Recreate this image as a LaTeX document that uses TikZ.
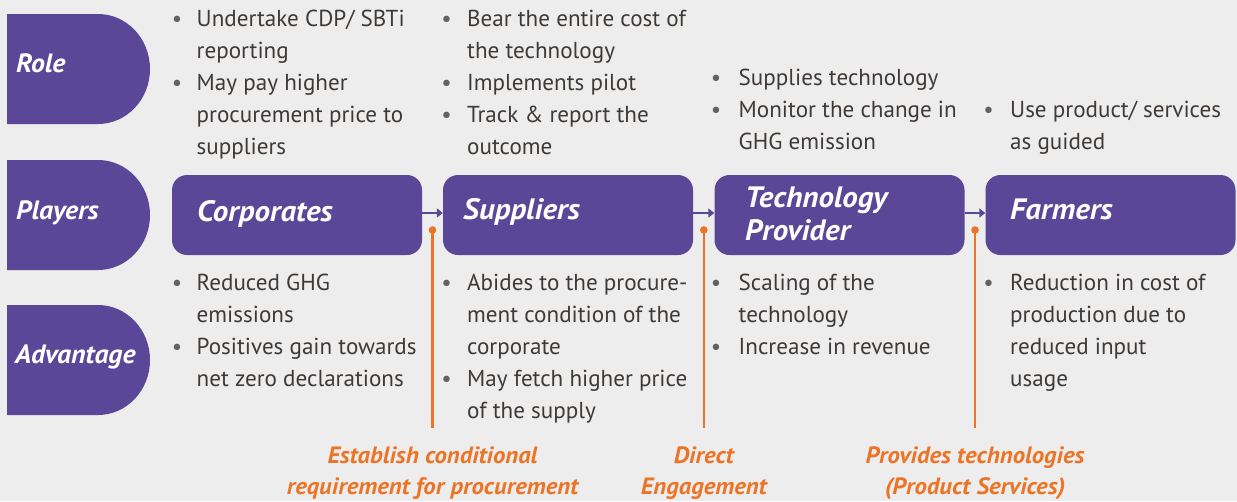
\documentclass[tikz,border=0pt]{standalone}
\usepackage{fontspec}
\setmainfont{PT Sans}
\newfontfamily\lblfont[FakeStretch=1.05]{PT Sans}
\usetikzlibrary{arrows.meta}
\definecolor{bgc}{HTML}{ECEDEC}
\definecolor{purp}{HTML}{5A4797}
\definecolor{orng}{HTML}{EC7426}
\definecolor{txtc}{HTML}{3F3A37}
\tikzset{
  txt/.style={anchor=base west, inner sep=0pt, text=txtc, font=\fontsize{23.1}{27}\selectfont},
  bul/.style={anchor=base, inner sep=0pt, text=txtc!80, font=\fontsize{23}{27}\selectfont},
  tablbl/.style={anchor=base west, inner sep=0pt, text=white, font=\lblfont\fontsize{26.5}{30}\selectfont\bfseries\itshape},
  pbox/.style={fill=purp, rounded corners=15pt, minimum width=250pt, minimum height=80pt, inner sep=0pt},
  plbl/.style={anchor=base west, inner sep=0pt, text=white, font=\lblfont\fontsize{29.5}{33}\selectfont\bfseries\itshape},
  olbl/.style={anchor=base, inner sep=0pt, text=orng, font=\lblfont\fontsize{23.6}{27}\selectfont\bfseries\itshape},
  parr/.style={draw=purp, line width=2pt, -{Triangle[length=6pt,width=9pt]}},
  oline/.style={draw=orng, line width=2.6pt},
  tabpic/.pic={\fill[purp] (0,0) -- (91,0) .. controls (119.7,0) and (143,24.6) .. (143,55) .. controls (143,85.4) and (119.7,110) .. (91,110) -- (0,110) -- cycle;}
}
\newcommand\txtline[4]{\node[txt] (#1) at (#2,#3) {#4};}
\newcommand\bulpt[3]{\node[bul] (#1) at (#2,#3) {•};}
\begin{document}
\begin{tikzpicture}[x=1pt,y=-1pt]
\fill[bgc] (0,0) rectangle (1237,501);
\useasboundingbox (0,0) rectangle (1237,501);
% tabs
\pic at (7,14) {tabpic};
\pic at (7,160) {tabpic};
\pic at (7,305) {tabpic};
\node[tablbl] (role) at (16,72.5) {Role};
\node[tablbl] (players) at (16,219) {Players};
\node[tablbl] (adv) at (15,363) {Advantage};
% player boxes
\node[pbox] (corp) at (297,215) {};
\node[pbox] (supp) at (568,215) {};
\node[pbox] (tech) at (839.5,215) {};
\node[pbox] (farm) at (1110.5,215) {};
\node[plbl] (corpt) at (197,221) {Corporates};
\node[plbl] (suppt) at (463,219) {Suppliers};
\node[plbl] (techt1) at (745,207) {Technology};
\node[plbl] (techt2) at (745,240) {Provider};
\node[plbl] (farmt) at (1010,219) {Farmers};
\draw[parr] ([yshift=2pt]corp.east) -- ([yshift=2pt]supp.west);
\draw[parr] ([yshift=2pt]supp.east) -- ([yshift=2pt]tech.west);
\draw[parr] ([yshift=2pt]tech.east) -- ([yshift=2pt]farm.west);
% orange connectors
\coordinate (d1) at (432.5,230); \coordinate (e1) at (432.5,428);
\coordinate (d2) at (703.8,230); \coordinate (e2) at (703.8,428);
\coordinate (d3) at (975,230);   \coordinate (e3) at (975,428);
\foreach \i in {1,2,3}{
  \draw[oline] (d\i) -- (e\i);
  \fill[orng] (d\i) circle (3.8pt);
}
\node[olbl] (o1a) at (432.5,463) {Establish conditional};
\node[olbl] (o1b) at (432.5,494) {requirement for procurement};
\node[olbl] (o2a) at (703.8,463) {Direct};
\node[olbl] (o2b) at (703.8,494) {Engagement};
\node[olbl] (o3a) at (975,463) {Provides technologies};
\node[olbl] (o3b) at (975,494) {(Product Services)};
% Role texts
\bulpt{rb1}{177}{26} \txtline{r1}{196.5}{26}{Undertake CDP/ SBTi}
\txtline{r2}{196.5}{58}{reporting}
\bulpt{rb2}{177}{90} \txtline{r3}{196.5}{90}{May pay higher}
\txtline{r4}{196.5}{122}{procurement price to}
\txtline{r5}{196.5}{154}{suppliers}
\bulpt{sb1}{446.5}{26} \txtline{s1}{467}{26}{Bear the entire cost of}
\txtline{s2}{467}{58}{the technology}
\bulpt{sb2}{446.5}{90} \txtline{s3}{467}{90}{Implements pilot}
\bulpt{sb3}{446.5}{122} \txtline{s4}{467}{122}{Track \& report the}
\txtline{s5}{467}{154}{outcome}
\bulpt{tb1}{716}{85} \txtline{t1}{738.5}{85}{Supplies technology}
\bulpt{tb2}{716}{117} \txtline{t2}{738.5}{117}{Monitor the change in}
\txtline{t3}{738.5}{149}{GHG emission}
\bulpt{fb1}{988.5}{117} \txtline{f1}{1010}{117}{Use product/ services}
\txtline{f2}{1010}{149}{as guided}
% Advantage texts
\bulpt{ab1}{177}{290} \txtline{a1}{196.5}{290}{Reduced GHG}
\txtline{a2}{196.5}{322}{emissions}
\bulpt{ab2}{177}{354} \txtline{a3}{196.5}{354}{Positives gain towards}
\txtline{a4}{196.5}{386}{net zero declarations}
\bulpt{bb1}{446.5}{290} \txtline{b1}{467}{290}{Abides to the procure-}
\txtline{b2}{467}{322}{ment condition of the}
\txtline{b3}{467}{354}{corporate}
\bulpt{bb2}{446.5}{386} \txtline{b4}{467}{386}{May fetch higher price}
\txtline{b5}{467}{418}{of the supply}
\bulpt{cb1}{716}{290} \txtline{c1}{738.5}{290}{Scaling of the}
\txtline{c2}{738.5}{322}{technology}
\bulpt{cb2}{716}{354} \txtline{c3}{738.5}{354}{Increase in revenue}
\bulpt{gb1}{988.5}{290} \txtline{g1}{1010}{290}{Reduction in cost of}
\txtline{g2}{1010}{322}{production due to}
\txtline{g3}{1010}{354}{reduced input}
\txtline{g4}{1010}{386}{usage}
\end{tikzpicture}
\end{document}
